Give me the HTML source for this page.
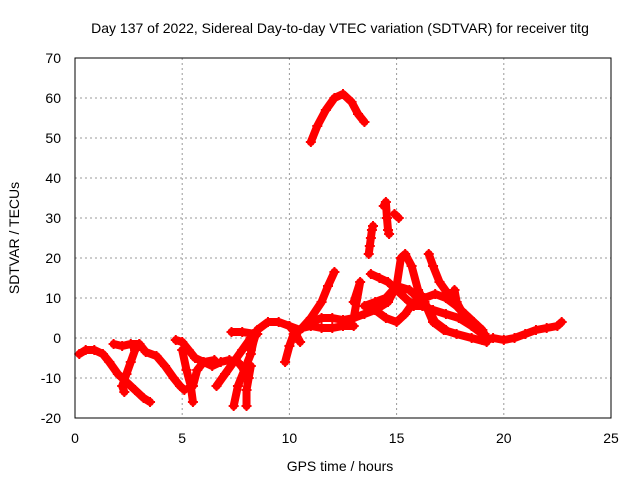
<!DOCTYPE html>
<html><head><meta charset="utf-8"><style>
body{margin:0;background:#fff}
svg{display:block;font-family:"Liberation Sans",sans-serif}
</style></head><body>
<svg id="c" width="640" height="480">
<text x="340" y="33" font-size="14" text-anchor="middle">Day 137 of 2022, Sidereal Day-to-day VTEC variation (SDTVAR) for receiver titg</text>
<text x="340" y="471" font-size="14" text-anchor="middle">GPS time / hours</text>
<text x="0" y="0" font-size="14" text-anchor="middle" transform="translate(19,238) rotate(-90)">SDTVAR / TECUs</text>
<g id="grid"></g><g id="marks"></g>
<rect x="75" y="58" width="536" height="360" fill="none" stroke="#000"/>
</svg>
<script>
const xTicks=[0,5,10,15,20,25];
const yTicks=[-20,-10,0,10,20,30,40,50,60,70];
const tracks=[
[[0.2,-4],[0.5,-3],[0.9,-3],[1.3,-4],[1.6,-6],[2.0,-9],[2.4,-11],[2.8,-13],[3.2,-15],[3.5,-16]],
[[3.0,-1.5],[2.8,-3],[2.6,-6],[2.4,-9],[2.2,-12],[2.3,-13.5]],
[[1.8,-1.5],[2.2,-2],[2.6,-1.5],[3.0,-1.5],[3.3,-3.5],[3.8,-4.5],[4.2,-7],[4.6,-10],[4.9,-12],[5.1,-13]],
[[4.7,-0.5],[5.0,-1],[5.3,-3],[5.6,-5],[6.0,-6],[6.4,-7],[6.8,-6],[7.2,-5.5],[7.6,-6],[7.9,-8]],
[[5.0,-3],[5.2,-8],[5.4,-12],[5.5,-16]],
[[5.5,-12],[5.7,-8],[6.0,-6],[6.5,-5.5]],
[[6.6,-12],[7.0,-9],[7.4,-6],[7.8,-3],[8.2,0],[8.5,1]],
[[7.4,-17],[7.6,-12],[7.9,-8],[8.2,-4],[8.4,1],[7.8,1.5],[7.3,1.5]],
[[8.0,-17],[8.0,-13],[8.1,-10],[8.2,-7]],
[[8.2,-3],[8.5,2],[9.0,4],[9.5,4],[10.0,3],[10.3,1],[10.5,-1]],
[[9.8,-6],[10.0,-2],[10.2,1],[10.6,2.5],[11.0,3],[11.5,2.5],[12.0,2.5],[12.5,3],[13.0,3]],
[[10.0,3],[10.5,2],[11.0,5],[11.5,9],[11.8,13],[12.1,16.5]],
[[11.0,4],[11.5,5],[12.0,5],[12.5,4.5],[13.0,5],[13.3,14],[13.0,9]],
[[11.0,49],[11.3,53],[11.7,57],[12.1,60],[12.5,61],[12.9,59],[13.2,56],[13.5,54]],
[[13.7,21],[13.75,23],[13.8,25],[13.85,27],[13.9,28]],
[[14.4,33],[14.5,34],[14.55,30],[14.6,27],[14.65,26]],
[[14.9,31],[15.1,30]],
[[13.8,16],[14.2,15],[14.6,14],[15.0,12],[15.4,10],[15.8,8],[16.2,8],[16.7,7],[17.3,6],[17.9,5],[18.5,3],[19.0,1]],
[[13.0,5],[13.5,6],[14.0,7],[14.6,9],[15.0,13],[15.2,20],[15.4,21],[15.7,18],[16.0,12],[16.3,9],[16.7,4],[17.2,2],[17.8,1],[18.5,0],[19.2,-1]],
[[13.5,8],[14.0,9],[14.5,10],[15.0,13],[15.6,12],[16.0,10],[16.4,8],[16.8,4],[17.3,2]],
[[14.0,7],[14.5,5],[15.0,4],[15.4,6],[15.8,9],[16.3,10],[16.8,11],[17.3,10],[17.8,8],[18.3,5]],
[[16.5,21],[16.7,18],[17.0,14],[17.4,11],[17.8,8],[18.2,6],[18.6,4],[19.0,2]],
[[17.7,12],[17.8,9],[18.2,5],[18.6,3],[19.1,1]],
[[19.0,-0.5],[19.5,0],[20.0,-0.5],[20.5,0],[21.0,1],[21.5,2],[22.0,2.5],[22.5,3],[22.7,4]]
];
const sx=v=>75+v*536/25, sy=v=>418-(v+20)*4;
const NS='http://www.w3.org/2000/svg';
const grid=document.getElementById('grid'), marks=document.getElementById('marks');
xTicks.forEach(t=>{
 const x=sx(t);
 if(t>0&&t<25){const l=document.createElementNS(NS,'line');
 l.setAttribute('x1',x);l.setAttribute('x2',x);l.setAttribute('y1',58);l.setAttribute('y2',418);
 l.setAttribute('stroke','#999');l.setAttribute('stroke-dasharray','2,3');
 
 
 grid.appendChild(l);}
 const tx=document.createElementNS(NS,'text');
 tx.setAttribute('x',x);tx.setAttribute('y',443);tx.setAttribute('font-size','14');tx.setAttribute('text-anchor','middle');
 tx.textContent=t;
 
 
 grid.appendChild(tx);
});
yTicks.forEach(t=>{
 const y=sy(t);
 if(t>-20&&t<70){const l=document.createElementNS(NS,'line');
 l.setAttribute('x1',75);l.setAttribute('x2',611);l.setAttribute('y1',y);l.setAttribute('y2',y);
 l.setAttribute('stroke','#999');l.setAttribute('stroke-dasharray','2,3');
 
 
 grid.appendChild(l);}
 const tx=document.createElementNS(NS,'text');
 tx.setAttribute('x',61);tx.setAttribute('y',y+5);tx.setAttribute('font-size','14');tx.setAttribute('text-anchor','end');
 tx.textContent=t;
 
 
 grid.appendChild(tx);
});
tracks.forEach(tr=>{
 const p=document.createElementNS(NS,'polyline');
 p.setAttribute('points',tr.map(d=>sx(d[0])+','+sy(d[1])).join(' '));
 p.setAttribute('fill','none');p.setAttribute('stroke','#f00');p.setAttribute('stroke-width','8');
 p.setAttribute('stroke-linejoin','round');p.setAttribute('stroke-linecap','round');
 
 
 marks.appendChild(p);
 tr.forEach(d=>{
  const m=document.createElementNS(NS,'path');
  const x=sx(d[0]),y=sy(d[1]);
  m.setAttribute('d',`M${x-5},${y}H${x+5}M${x},${y-5}V${y+5}`);
  m.setAttribute('stroke','#f00');m.setAttribute('stroke-width','2');
  
  
  marks.appendChild(m);
 });
});
</script>
</body></html>
